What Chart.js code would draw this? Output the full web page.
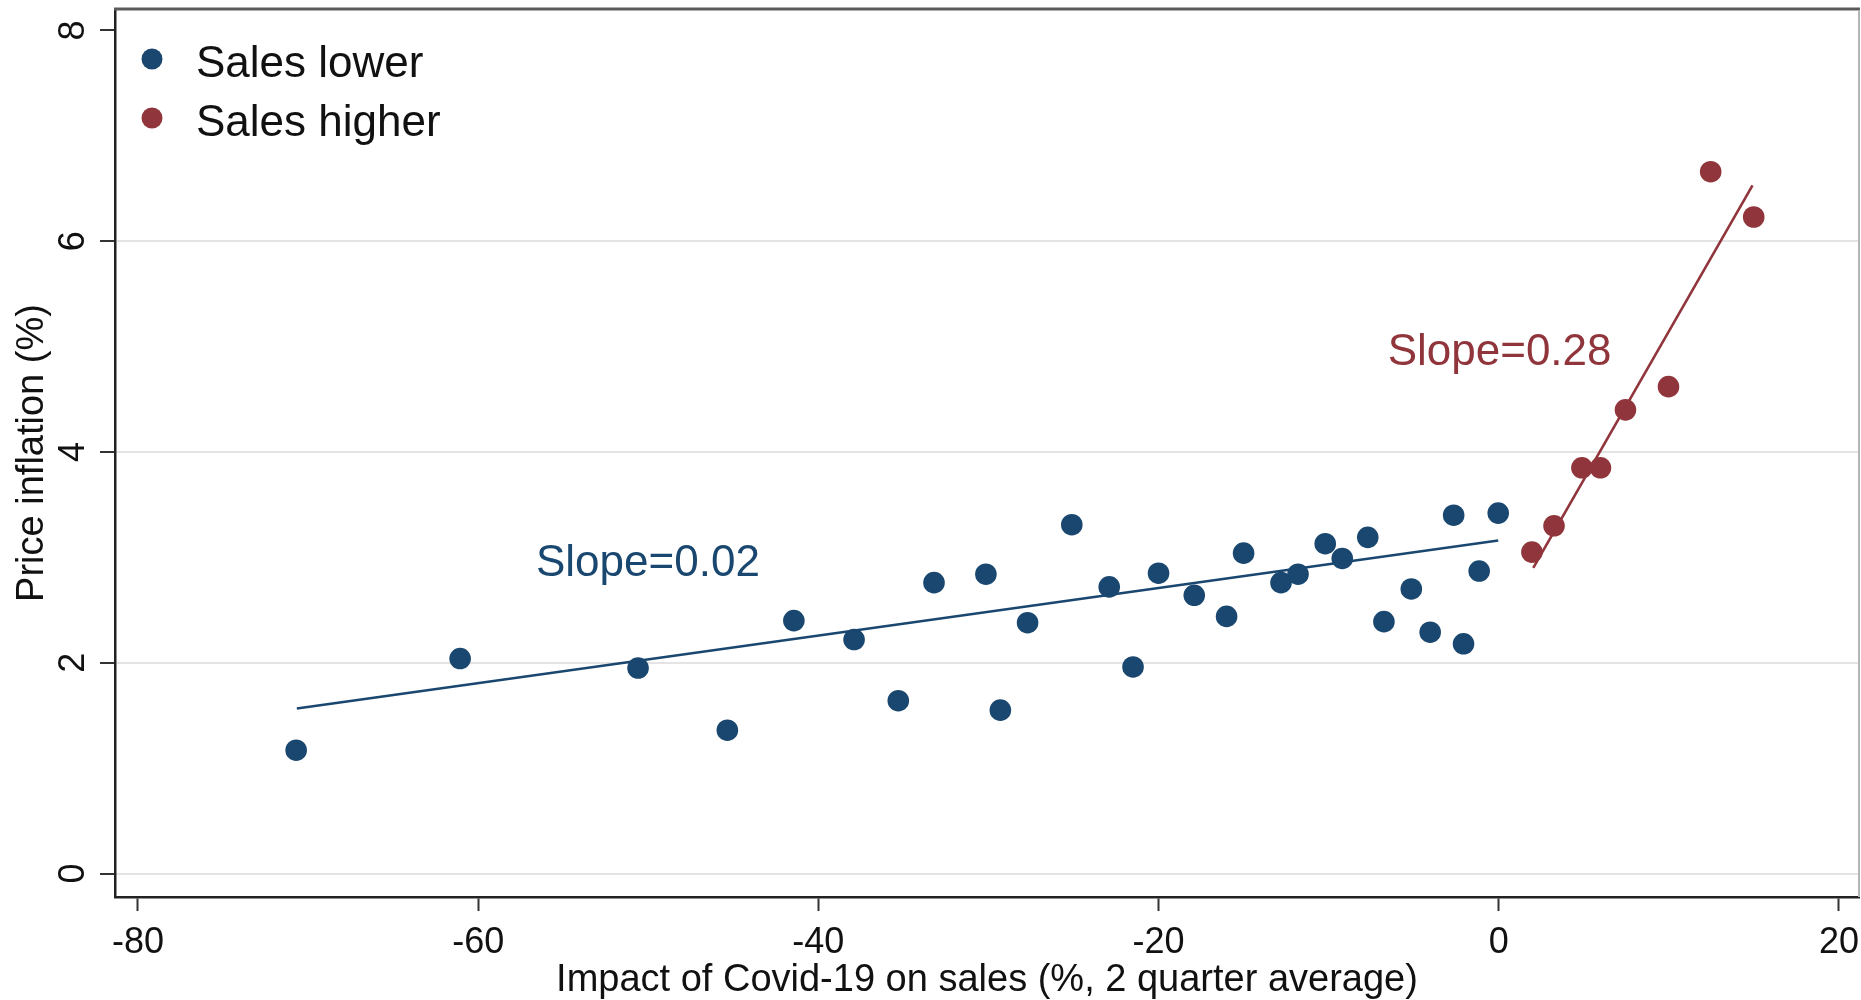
<!DOCTYPE html>
<html>
<head>
<meta charset="utf-8">
<title>Price inflation and the impact of Covid-19 on sales</title>
<script src="https://cdn.jsdelivr.net/npm/chart.js@4.4.1/dist/chart.umd.min.js"></script>
<style>
  html, body { margin: 0; padding: 0; background: #ffffff; overflow: hidden; }
  #wrap { width: 1861px; height: 1000px; }
  canvas { display: block; }
</style>
</head>
<body>
<div id="wrap"><canvas id="chart" width="1861" height="1000"></canvas></div>
<script>
// Industries where Covid-19 lowered sales (x: sales impact %, y: price inflation %)
const lowerX = [-70.7, -61.06, -50.6, -45.35, -41.44, -37.9, -35.3, -33.2, -30.15, -29.3,
                -27.7, -25.1, -22.9, -21.5, -20.0, -17.9, -16.0, -15.0, -12.8, -11.8,
                -10.2, -9.2, -7.7, -6.75, -5.14, -4.03, -2.65, -2.07, -1.15, -0.03];
const lowerY = [1.17, 2.04, 1.95, 1.36, 2.40, 2.22, 1.64, 2.76, 2.84, 1.55,
                2.38, 3.31, 2.72, 1.96, 2.85, 2.64, 2.44, 3.04, 2.76, 2.84,
                3.13, 2.99, 3.19, 2.39, 2.70, 2.29, 3.40, 2.18, 2.87, 3.42];

// Industries where Covid-19 raised sales
const higherX = [1.95, 3.25, 4.89, 5.98, 7.45, 9.98, 12.46, 14.99];
const higherY = [3.05, 3.30, 3.85, 3.85, 4.40, 4.62, 6.66, 6.23];

// Fitted lines (end points)
const lowerFitX = [-70.66, -0.03];
const lowerFitY = [1.566, 3.16];
const higherFitX = [2.03, 14.92];
const higherFitY = [2.90, 6.53];

// Axis ticks
const xTicks = [-80, -60, -40, -20, 0, 20];
const yTicks = [0, 2, 4, 6, 8];

// Labels
const seriesNames = ['Sales lower', 'Sales higher'];
const slopeLabels = ['Slope=0.02', 'Slope=0.28'];
const slopeLabelX = [-56.6, -6.53];
const slopeLabelY = [2.82, 4.83];

const FONT = "'Liberation Sans', Arial, Helvetica, sans-serif";
const NAVY = '#1a476f';
const MAROON = '#90353b';
const seriesColors = [NAVY, MAROON];

Chart.defaults.font.family = FONT;

const pairs = (xs, ys) => xs.map((x, i) => ({ x: x, y: ys[i] }));

// Plot frame, tick labels, legend and slope notes
const decor = {
  id: 'decor',
  afterDraw(chart) {
    const { ctx, chartArea: a, scales: { x, y } } = chart;
    ctx.save();

    ctx.lineCap = 'butt';
    ctx.strokeStyle = '#5a5a5a';
    ctx.lineWidth = 3;
    ctx.beginPath();
    ctx.moveTo(a.left - 1, a.top);
    ctx.lineTo(a.right + 1, a.top);
    ctx.stroke();

    ctx.strokeStyle = '#b5b5b5';
    ctx.lineWidth = 2;
    ctx.beginPath();
    ctx.moveTo(a.right, a.top + 1);
    ctx.lineTo(a.right, a.bottom);
    ctx.stroke();

    // x tick labels
    ctx.fillStyle = '#111';
    ctx.font = '36px ' + FONT;
    ctx.textAlign = 'center';
    ctx.textBaseline = 'middle';
    x.ticks.forEach(t => {
      ctx.fillText(String(t.value), x.getPixelForValue(t.value), a.bottom + 46);
    });

    // y tick labels, turned to read upwards
    ctx.textBaseline = 'alphabetic';
    y.ticks.forEach(t => {
      const py = y.getPixelForValue(t.value);
      ctx.save();
      ctx.translate(a.left - 31, py);
      ctx.rotate(-Math.PI / 2);
      ctx.fillText(String(t.value), 0, 0);
      ctx.restore();
    });

    // legend
    ctx.font = '44px ' + FONT;
    ctx.textAlign = 'left';
    seriesNames.forEach((name, i) => {
      ctx.fillStyle = seriesColors[i];
      ctx.beginPath();
      ctx.arc(a.left + 37, a.top + 50 + i * 59, 10.5, 0, Math.PI * 2);
      ctx.fill();
      ctx.fillStyle = '#111';
      ctx.fillText(name, a.left + 81, a.top + 67.7 + i * 59);
    });

    // slope notes
    slopeLabels.forEach((s, i) => {
      ctx.fillStyle = seriesColors[i];
      ctx.fillText(s, x.getPixelForValue(slopeLabelX[i]), y.getPixelForValue(slopeLabelY[i]));
    });

    ctx.restore();
  }
};

new Chart(document.getElementById('chart'), {
  type: 'scatter',
  data: {
    datasets: [
      { label: seriesNames[0], data: pairs(lowerX, lowerY), backgroundColor: NAVY,
        borderWidth: 0, pointRadius: 10.8, order: 2 },
      { label: seriesNames[1], data: pairs(higherX, higherY), backgroundColor: MAROON,
        borderWidth: 0, pointRadius: 10.8, order: 2 },
      { label: 'fit lower', data: pairs(lowerFitX, lowerFitY), showLine: true,
        borderColor: NAVY, borderWidth: 2.6, pointRadius: 0, fill: false, order: 1 },
      { label: 'fit higher', data: pairs(higherFitX, higherFitY), showLine: true,
        borderColor: MAROON, borderWidth: 2.6, pointRadius: 0, fill: false, order: 1 }
    ]
  },
  options: {
    responsive: false,
    animation: false,
    events: [],
    devicePixelRatio: 1,
    layout: { autoPadding: false, padding: { top: 9, right: 2, bottom: 0, left: 0 } },
    plugins: { legend: { display: false }, tooltip: { enabled: false } },
    scales: {
      x: {
        type: 'linear',
        min: -81.35,
        max: 21.18,
        afterBuildTicks: s => { s.ticks = xTicks.map(v => ({ value: v })); },
        afterFit: s => { s.height = 103; s.paddingLeft = 0; s.paddingRight = 0; },
        grid: { drawOnChartArea: false, drawTicks: true, tickLength: 14, tickWidth: 2, tickColor: '#333' },
        border: { display: true, color: '#222', width: 2.5 },
        ticks: { display: false },
        title: { display: true, text: 'Impact of Covid-19 on sales (%, 2 quarter average)',
                 font: { size: 38 }, color: '#111', padding: { top: 0, bottom: -3 } }
      },
      y: {
        type: 'linear',
        min: -0.223,
        max: 8.204,
        afterBuildTicks: s => { s.ticks = yTicks.map(v => ({ value: v })); },
        afterFit: s => { s.width = 115; s.paddingTop = 0; s.paddingBottom = 0; },
        grid: {
          color: c => (c.tick && c.tick.value === 8) ? 'rgba(0,0,0,0)' : '#e4e4e4',
          lineWidth: 2, drawTicks: true, tickLength: 15, tickWidth: 2, tickColor: '#333'
        },
        border: { display: true, color: '#222', width: 2.5 },
        ticks: { display: false },
        title: { display: true, text: 'Price inflation (%)', font: { size: 38 }, color: '#111',
                 padding: { top: 10, bottom: 0 } }
      }
    }
  },
  plugins: [decor]
});
</script>
</body>
</html>
